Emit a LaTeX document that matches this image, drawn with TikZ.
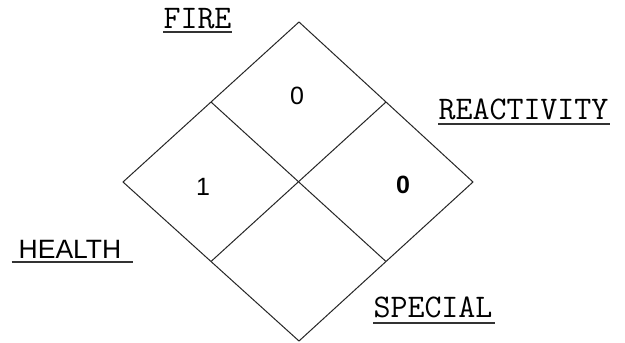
\documentclass[tikz,border=0pt]{standalone}
\usepackage{fontspec}
\usetikzlibrary{calc}
\newfontfamily\labsans{Liberation Sans}
\begin{document}
\begin{tikzpicture}[x=1pt,y=-1pt,
  edge/.style={line width=1pt,black!85},
  monolab/.style={inner sep=0pt,font=\ttfamily\fontsize{33}{33}\selectfont},
  sanslab/.style={inner sep=0pt,font=\labsans\fontsize{26.5}{26.5}\selectfont},
  numlab/.style={inner sep=0pt,font=\labsans\fontsize{25}{25}\selectfont},
  uline/.style={line width=2pt,black!80}]
\useasboundingbox (0,0) rectangle (625,343);
\fill[white] (0,0) rectangle (625,343);
% diamond corners
\coordinate (T) at (299,22);
\coordinate (L) at (123,182);
\coordinate (R) at (473,182);
\coordinate (B) at (299,341);
\coordinate (TL) at ($(T)!0.5!(L)$);
\coordinate (TR) at ($(T)!0.5!(R)$);
\coordinate (BL) at ($(B)!0.5!(L)$);
\coordinate (BR) at ($(B)!0.5!(R)$);
\draw[edge] (T) -- (R) -- (B) -- (L) -- cycle;
\draw[edge] (TL) -- (BR);
\draw[edge] (TR) -- (BL);
% numbers
\node[numlab] (fireval) at (297,96) {0};
\node[numlab] (healthval) at (203,187) {1};
\node[numlab,font=\labsans\bfseries\fontsize{25}{25}\selectfont] (reactval) at (403,185) {0};
% labels
\node[monolab] (fire) at (197.5,19) {FIRE};
\node[monolab] (react) at (523.5,109) {REACTIVITY};
\node[monolab] (special) at (433,307.5) {SPECIAL};
\node[sanslab] (health) at (70,249) {HEALTH};
% underlines
\draw[uline] ([shift={(0,3)}]fire.south west) -- ([shift={(0,3)}]fire.south east);
\draw[uline] ([shift={(0,4)}]react.south west) -- ([shift={(1,4)}]react.south east);
\draw[uline] ([shift={(0,5)}]special.south west) -- ([shift={(2,5)}]special.south east);
\draw[uline] ([shift={(-7,4)}]health.south west) -- ([shift={(12,4)}]health.south east);
\end{tikzpicture}
\end{document}
